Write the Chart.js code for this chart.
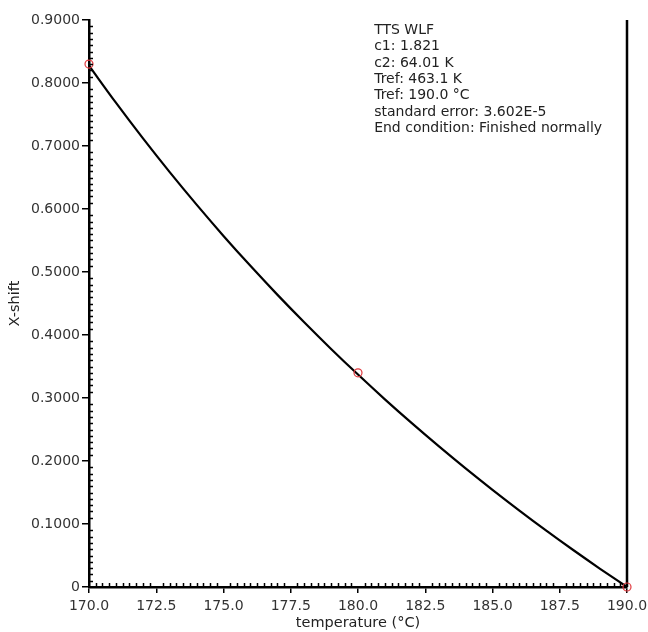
<!DOCTYPE html>
<html>
<head>
<meta charset="utf-8">
<script src="https://cdn.jsdelivr.net/npm/chart.js@4.4.1/dist/chart.umd.min.js"></script>
<style>
html,body{margin:0;padding:0;background:#fff;}
#wrap{width:648px;height:632px;position:relative;}
</style>
</head>
<body>
<div id="wrap"><canvas id="c"></canvas></div>
<script>
// Fitted WLF curve (temperature °C -> X-shift)
const curveTemps = [170,171,172,173,174,175,176,177,178,179,180,181,182,183,184,185,186,187,188,189,190];
const curveShift = [0.8275,0.7687,0.7124,0.6585,0.6069,0.5573,0.5098,0.4641,0.4202,0.3779,0.3372,0.2979,0.2601,0.2236,0.1883,0.1543,0.1214,0.0895,0.0587,0.0289,0.0];
// Measured points (red circles)
const pointTemps = [170,180,190];
const pointShift = [0.8300,0.3400,0.0];
// Reference temperature line
const refLineTemps = [190,190];
const refLineShift = [0,0.9];
// Axis ranges / ticks
const xMin = 170, xMax = 190, xStep = 2.5;
const yMin = 0, yMax = 0.9, yStep = 0.1;
const xTitle = 'temperature (°C)';
const yTitle = 'X-shift';
const annotationLines = [
  'TTS WLF',
  'c1: 1.821',
  'c2: 64.01 K',
  'Tref: 463.1 K',
  'Tref: 190.0 °C',
  'standard error: 3.602E-5',
  'End condition: Finished normally'
];

const toXY = (xs, ys) => xs.map((x, i) => ({x: x, y: ys[i]}));

const FONT = '"DejaVu Sans", Verdana, sans-serif';

const extras = {
  id: 'extras',
  afterDraw(chart) {
    const ctx = chart.ctx;
    const xs = chart.scales.x, ys = chart.scales.y;
    const ca = chart.chartArea;
    ctx.save();
    ctx.strokeStyle = '#000';
    ctx.lineWidth = 1.5;
    // minor ticks inside
    const xMinor = xStep / 10;
    for (let i = 0; i <= Math.round((xMax - xMin) / xMinor); i++) {
      if (i % 10 === 0) continue;
      const px = Math.round(xs.getPixelForValue(xMin + i * xMinor)) + 0.5;
      ctx.beginPath();
      ctx.moveTo(px, ca.bottom);
      ctx.lineTo(px, ca.bottom - 4);
      ctx.stroke();
    }
    const yMinor = yStep / 10;
    for (let i = 0; i <= Math.round((yMax - yMin) / yMinor); i++) {
      if (i % 10 === 0) continue;
      const py = Math.round(ys.getPixelForValue(yMin + i * yMinor)) + 0.5;
      ctx.beginPath();
      ctx.moveTo(ca.left, py);
      ctx.lineTo(ca.left + 4, py);
      ctx.stroke();
    }
    // annotation text
    ctx.fillStyle = '#222';
    ctx.font = '14px ' + FONT;
    ctx.textAlign = 'left';
    ctx.textBaseline = 'middle';
    const tx = ca.left + 0.53 * (ca.right - ca.left);
    annotationLines.forEach((t, i) => {
      ctx.fillText(t, tx, ca.top + 10.5 + i * 16.3);
    });
    ctx.restore();
  }
};

new Chart(document.getElementById('c'), {
  type: 'scatter',
  data: {
    datasets: [
      {
        data: toXY(pointTemps, pointShift),
        showLine: false,
        pointRadius: 4,
        pointHoverRadius: 4,
        pointBorderColor: '#e0393e',
        pointBackgroundColor: 'rgba(0,0,0,0)',
        pointBorderWidth: 1.2,
        clip: false,
        order: 0
      },
      {
        data: toXY(curveTemps, curveShift),
        showLine: true,
        borderColor: '#000',
        borderWidth: 2.2,
        pointRadius: 0,
        cubicInterpolationMode: 'monotone',
        clip: false,
        order: 1
      },
      {
        data: toXY(refLineTemps, refLineShift),
        showLine: true,
        borderColor: '#000',
        borderWidth: 2.5,
        pointRadius: 0,
        clip: false,
        order: 2
      }
    ]
  },
  options: {
    responsive: true,
    maintainAspectRatio: false,
    animation: false,
    events: [],
    layout: { padding: { top: 20, right: 21, left: 0, bottom: 0 } },
    plugins: { legend: { display: false }, tooltip: { enabled: false } },
    scales: {
      x: {
        type: 'linear',
        min: xMin, max: xMax,
        afterFit(s) { s.height = 45; s.paddingRight = 0; s.paddingLeft = 0; },
        ticks: {
          stepSize: xStep,
          color: '#333',
          font: { family: FONT, size: 14 },
          padding: 5,
          maxRotation: 0,
          callback: v => Number(v).toFixed(1)
        },
        grid: { display: true, drawOnChartArea: false, drawTicks: true, tickLength: 6, color: '#000', lineWidth: 1.5 },
        border: { display: true, color: '#000', width: 2.5 },
        title: { display: true, text: xTitle, color: '#222', font: { family: FONT, size: 14.5 }, padding: { top: 0, bottom: 0 } }
      },
      y: {
        type: 'linear',
        min: yMin, max: yMax,
        afterFit(s) { s.width = 89; s.paddingTop = 0; s.paddingBottom = 0; },
        ticks: {
          stepSize: yStep,
          color: '#333',
          font: { family: FONT, size: 14 },
          padding: 2,
          callback: v => (Math.abs(v) < 1e-9 ? '0' : Number(v).toFixed(4))
        },
        grid: { display: true, drawOnChartArea: false, drawTicks: true, tickLength: 7, color: '#000', lineWidth: 1.5 },
        border: { display: true, color: '#000', width: 2.5 },
        title: { display: true, text: yTitle, color: '#222', font: { family: FONT, size: 14.5 }, padding: { top: 7, bottom: 0 } }
      }
    }
  },
  plugins: [extras]
});
</script>
</body>
</html>
